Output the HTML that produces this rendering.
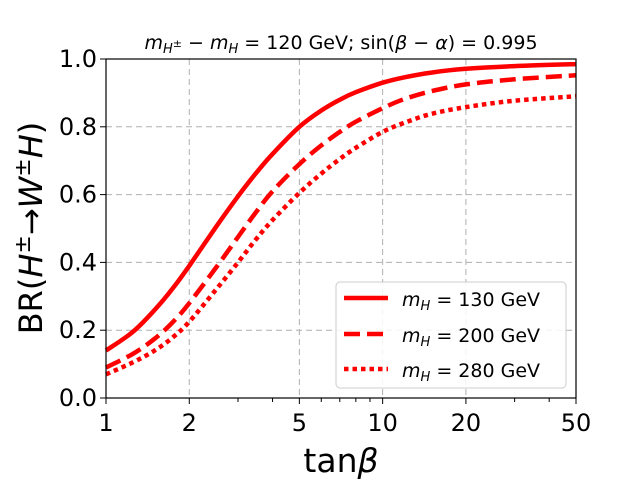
<!DOCTYPE html>
<html><head><meta charset="utf-8"><style>
body{margin:0;background:#fff}
svg text{font-family:"DejaVu Sans","Liberation Sans",sans-serif}
</style></head><body>
<svg id="c" width="640" height="480" xmlns="http://www.w3.org/2000/svg">
<text x="341" y="49" font-size="19" text-anchor="middle"><tspan font-style="italic">m</tspan><tspan font-size="13" font-style="italic" dy="4">H</tspan><tspan font-size="11" dy="-6">±</tspan><tspan dy="2"> − </tspan><tspan font-style="italic">m</tspan><tspan font-size="13" font-style="italic" dy="4">H</tspan><tspan dy="-4"> = 120 GeV; sin(</tspan><tspan font-style="italic">β</tspan> − <tspan font-style="italic">α</tspan>) = 0.995</text>
<g id="grid"></g><g id="lines"></g><g id="ticks"></g>
<rect x="106" y="59" width="470" height="339" fill="none" stroke="#000" stroke-width="1.2"/>
<text x="341" y="472" font-size="33" text-anchor="middle">tan<tspan font-style="italic">β</tspan></text>
<text transform="translate(42,228) rotate(-90)" font-size="32" text-anchor="middle">BR(<tspan font-style="italic">H</tspan><tspan font-size="22" dy="-12">±</tspan><tspan dy="12">→</tspan><tspan font-style="italic">W</tspan><tspan font-size="22" dy="-12">±</tspan><tspan font-style="italic" dy="12">H</tspan>)</text>
<g>
<rect x="336" y="282" width="230" height="106" rx="4" fill="#fff" fill-opacity="0.85" stroke="#ccc"/>
<line x1="344" y1="298" x2="388" y2="298" stroke="red" stroke-width="4.5"/>
<text x="402" y="306" font-size="19"><tspan font-style="italic">m</tspan><tspan font-size="13" font-style="italic" dy="4">H</tspan><tspan dy="-4"> = 130 GeV</tspan></text>
<line x1="344" y1="334" x2="388" y2="334" stroke="red" stroke-width="4.5" stroke-dasharray="16 7"/>
<text x="402" y="342" font-size="19"><tspan font-style="italic">m</tspan><tspan font-size="13" font-style="italic" dy="4">H</tspan><tspan dy="-4"> = 200 GeV</tspan></text>
<line x1="344" y1="369" x2="388" y2="369" stroke="red" stroke-width="4.5" stroke-dasharray="4.5 4"/>
<text x="402" y="377" font-size="19"><tspan font-style="italic">m</tspan><tspan font-size="13" font-style="italic" dy="4">H</tspan><tspan dy="-4"> = 280 GeV</tspan></text>
</g>
</svg>
<script>
const tanb=[1,1.25,1.5,1.75,2,2.5,3,3.5,4,5,6,7,8,10,12,15,20,30,50];
const br130=[0.14,0.195,0.26,0.325,0.39,0.505,0.595,0.665,0.72,0.80,0.848,0.88,0.902,0.93,0.946,0.96,0.971,0.979,0.985];
const br200=[0.09,0.13,0.175,0.225,0.28,0.385,0.475,0.55,0.61,0.69,0.745,0.785,0.815,0.855,0.882,0.905,0.925,0.94,0.952];
const br280=[0.07,0.105,0.14,0.18,0.225,0.32,0.40,0.47,0.525,0.605,0.662,0.705,0.738,0.785,0.812,0.838,0.858,0.877,0.89];
const xTicks=[1,2,5,10,20,50];
const yTicks=[0,0.2,0.4,0.6,0.8,1.0];
const NS="http://www.w3.org/2000/svg";
const X=v=>106+470*Math.log(v)/Math.log(50);
const Y=v=>398-339*v;
function mk(t,a,p){const e=document.createElementNS(NS,t);for(const k in a)e.setAttribute(k,a[k]);p.appendChild(e);return e;}
const g=document.getElementById('grid'),tk=document.getElementById('ticks'),ln=document.getElementById('lines');
xTicks.forEach(v=>{
 const l=mk('line',{x1:X(v),x2:X(v),y1:59,y2:398,stroke:'#b0b0b0','stroke-dasharray':'6 4'},g);
 
 mk('line',{x1:X(v),x2:X(v),y1:398,y2:404,stroke:'#000'},tk);
 const t=mk('text',{x:X(v),y:431,'font-size':24,'text-anchor':'middle'},tk);t.textContent=v;
 
});
for(let d=1;d<50;d*=10)for(let m=2;m<10;m++){const v=d*m;if(v>50||xTicks.includes(v))continue;mk('line',{x1:X(v),x2:X(v),y1:398,y2:402,stroke:'#000'},tk);}
yTicks.forEach(v=>{
 const l=mk('line',{x1:106,x2:576,y1:Y(v),y2:Y(v),stroke:'#b0b0b0','stroke-dasharray':'6 4'},g);
 
 mk('line',{x1:100,x2:106,y1:Y(v),y2:Y(v),stroke:'#000'},tk);
 const t=mk('text',{x:97,y:Y(v)+8,'font-size':24,'text-anchor':'end'},tk);t.textContent=v.toFixed(1);
 
});
function line(arr,dash,name){
 const P=tanb.map((v,i)=>[X(v),Y(arr[i])]);
 let d='M'+P[0][0].toFixed(1)+','+P[0][1].toFixed(1);
 for(let i=0;i<P.length-1;i++){
  const p0=P[Math.max(i-1,0)],p1=P[i],p2=P[i+1],p3=P[Math.min(i+2,P.length-1)];
  const c1=[p1[0]+(p2[0]-p0[0])/6,p1[1]+(p2[1]-p0[1])/6];
  const c2=[p2[0]-(p3[0]-p1[0])/6,p2[1]-(p3[1]-p1[1])/6];
  d+='C'+c1[0].toFixed(1)+','+c1[1].toFixed(1)+' '+c2[0].toFixed(1)+','+c2[1].toFixed(1)+' '+p2[0].toFixed(1)+','+p2[1].toFixed(1);
 }
 const p=mk('path',{d:d,fill:'none',stroke:'red','stroke-width':4.5,'stroke-linejoin':'round'},ln);
 if(dash)p.setAttribute('stroke-dasharray',dash);
 
 
}
line(br130,null,'series-130-gev');
line(br200,'16 7','series-200-gev');
line(br280,'4.5 4','series-280-gev');
</script>
</body></html>
